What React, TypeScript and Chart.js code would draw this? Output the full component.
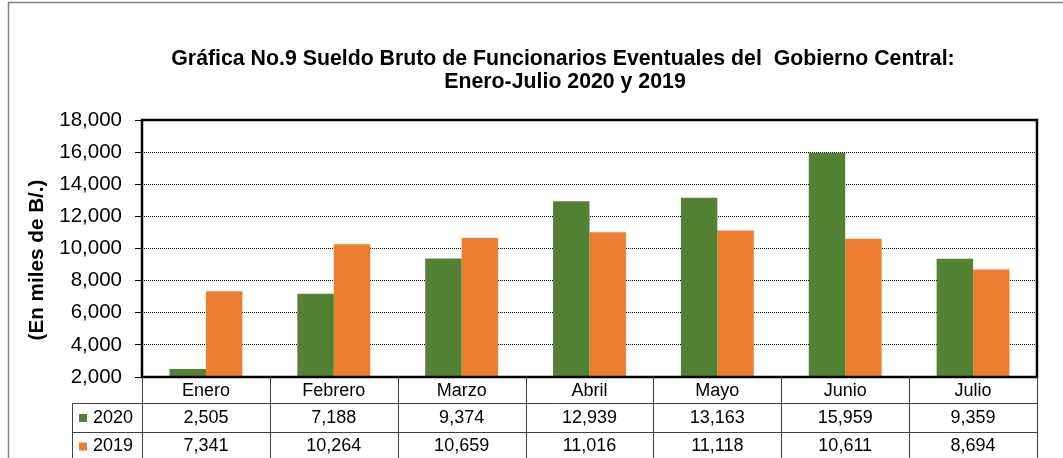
import React, { useEffect, useRef } from "react";
import { Chart, registerables } from "chart.js";

Chart.register(...registerables);

const categories = ["Enero", "Febrero", "Marzo", "Abril", "Mayo", "Junio", "Julio"];
const values2020 = [2505, 7188, 9374, 12939, 13163, 15959, 9359];
const values2019 = [7341, 10264, 10659, 11016, 11118, 10611, 8694];
const seriesLabels = ["2020", "2019"];
const seriesColors = ["#548235", "#ED7D31"];
const titleLines = [
  "Gráfica No.9 Sueldo Bruto de Funcionarios Eventuales del  Gobierno Central:",
  "Enero-Julio 2020 y 2019",
];
const yAxisTitle = "(En miles de B/.)";

const W = 1063;
const H = 458;
const FONT = "'Liberation Sans', Arial, sans-serif";

const fmt = (v: number) => v.toLocaleString("en-US");

const decorPlugin = {
  id: "decor",
  afterDraw(chart: any) {
    const ctx = chart.ctx as CanvasRenderingContext2D;
    const area = chart.chartArea;
    const xs = chart.scales.x;
    ctx.save();

    // outer frame
    ctx.strokeStyle = "#808080";
    ctx.lineWidth = 1.5;
    ctx.beginPath();
    ctx.moveTo(8.5, H + 5);
    ctx.lineTo(8.5, 2.5);
    ctx.lineTo(W + 5, 2.5);
    ctx.stroke();

    // title
    ctx.fillStyle = "#000";
    ctx.font = `bold 21.3px ${FONT}`;
    ctx.textAlign = "center";
    ctx.textBaseline = "alphabetic";
    ctx.fillText(titleLines[0], 563, 65);
    ctx.fillText(titleLines[1], 565, 88);

    // y title
    ctx.save();
    ctx.font = `bold 20.7px ${FONT}`;
    ctx.translate(37, 260);
    ctx.rotate(-Math.PI / 2);
    ctx.textBaseline = "middle";
    ctx.fillText(yAxisTitle, 0, 0);
    ctx.restore();

    // plot frame
    ctx.strokeStyle = "#000";
    ctx.lineWidth = 2.5;
    ctx.strokeRect(area.left, area.top, area.right - area.left, area.bottom - area.top);

    // data table
    const n = categories.length;
    const catW = (area.right - area.left) / n;
    const headerBottom = 403.5;
    const row1Bottom = 432.5;
    const tableBottom = 461;
    const legendLeft = 72.5;

    ctx.lineWidth = 1;
    ctx.strokeStyle = "#404040";
    ctx.beginPath();
    ctx.moveTo(legendLeft, headerBottom);
    ctx.lineTo(area.right, headerBottom);
    ctx.moveTo(legendLeft, row1Bottom);
    ctx.lineTo(area.right, row1Bottom);
    ctx.moveTo(legendLeft, tableBottom);
    ctx.lineTo(area.right, tableBottom);
    ctx.moveTo(legendLeft, headerBottom);
    ctx.lineTo(legendLeft, tableBottom);
    for (let i = 0; i <= n; i++) {
      const x = Math.round(area.left + i * catW) + 0.5;
      ctx.moveTo(x, area.bottom);
      ctx.lineTo(x, tableBottom);
    }
    ctx.stroke();

    ctx.fillStyle = "#000";
    ctx.font = `18px ${FONT}`;
    ctx.textAlign = "center";
    ctx.textBaseline = "middle";
    const rows = [values2020, values2019];
    const rowCenters = [418, 446.5];
    for (let i = 0; i < n; i++) {
      const cx = xs.getPixelForValue(i);
      ctx.fillText(categories[i], cx, 391);
      rows.forEach((r, j) => ctx.fillText(fmt(r[i]), cx, rowCenters[j]));
    }
    ctx.textAlign = "left";
    seriesLabels.forEach((lab, j) => {
      ctx.fillStyle = seriesColors[j];
      ctx.fillRect(79, rowCenters[j] - 4, 8, 8);
      ctx.fillStyle = "#000";
      ctx.fillText(lab, 93, rowCenters[j]);
    });

    ctx.restore();
  },
};

export default function App() {
  const ref = useRef<HTMLCanvasElement | null>(null);
  useEffect(() => {
    if (!ref.current) return;
    const chart = new Chart(ref.current, {
      type: "bar",
      data: {
        labels: categories,
        datasets: [
          { label: seriesLabels[0], data: values2020, backgroundColor: seriesColors[0] },
          { label: seriesLabels[1], data: values2019, backgroundColor: seriesColors[1] },
        ],
      },
      options: {
        animation: false,
        responsive: false,
        devicePixelRatio: 1,
        layout: { padding: { left: 0, right: 26, top: 120, bottom: 81 } },
        datasets: { bar: { categoryPercentage: 0.57, barPercentage: 1 } },
        plugins: {
          legend: { display: false },
          title: { display: false },
          tooltip: { enabled: false },
        },
        scales: {
          x: { display: false },
          y: {
            min: 2000,
            max: 18000,
            afterFit: (s: any) => {
              s.width = 142;
            },
            ticks: {
              stepSize: 2000,
              padding: 13,
              color: "#000",
              font: { family: FONT, size: 20.5 },
              callback: (v: any) => fmt(Number(v)),
            },
            grid: {
              color: "#000",
              lineWidth: 1,
              tickLength: 7,
              tickColor: "#000",
              tickBorderDash: [],
            },
            border: { display: false, dash: [1, 1] },
          },
        },
      },
      plugins: [decorPlugin],
    });
    return () => chart.destroy();
  }, []);
  return (
    <div style={{ position: "absolute", left: 0, top: 0, width: W, height: H, background: "#fff" }}>
      <canvas ref={ref} width={W} height={H} style={{ width: W, height: H, display: "block" }} />
    </div>
  );
}
